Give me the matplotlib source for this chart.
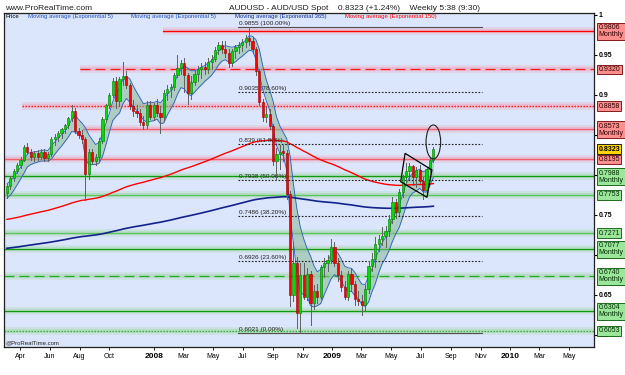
import datetime as dt
import matplotlib
matplotlib.use("Agg")
import matplotlib.pyplot as plt
import matplotlib.dates as mdates
from matplotlib.patches import Ellipse, Polygon
from matplotlib.ticker import MultipleLocator, FuncFormatter

plt.rcParams['font.family'] = ['Liberation Sans', 'DejaVu Sans']

# ----------------------------
# Data (weekly AUD/USD candles)
# ----------------------------
first_monday = dt.date(2007, 3, 5)

opens = [
    0.778, 0.786, 0.796, 0.805, 0.812, 0.819, 0.835, 0.829, 0.822, 0.827,
    0.823, 0.829, 0.821, 0.826, 0.845, 0.848, 0.852, 0.857, 0.862, 0.871,
    0.880, 0.855, 0.850, 0.845, 0.801, 0.829, 0.818, 0.822, 0.843, 0.870,
    0.887, 0.900, 0.918, 0.892, 0.920, 0.924, 0.912, 0.886, 0.880, 0.877,
    0.866, 0.862, 0.888, 0.873, 0.887, 0.878, 0.872, 0.902, 0.907, 0.910,
    0.925, 0.934, 0.940, 0.925, 0.903, 0.916, 0.926, 0.932, 0.935, 0.932,
    0.941, 0.945, 0.956, 0.962, 0.958, 0.953, 0.940, 0.955, 0.960, 0.963,
    0.966, 0.971, 0.968, 0.957, 0.930, 0.891, 0.872, 0.876, 0.861, 0.818,
    0.826, 0.829, 0.828, 0.776, 0.650, 0.690, 0.628, 0.675, 0.648, 0.676,
    0.640, 0.655, 0.648, 0.685, 0.690, 0.694, 0.710, 0.690, 0.675, 0.660,
    0.648, 0.676, 0.664, 0.645, 0.643, 0.638, 0.658, 0.686, 0.695, 0.714,
    0.720, 0.724, 0.730, 0.745, 0.766, 0.754, 0.779, 0.797, 0.805, 0.811,
    0.797, 0.806, 0.793, 0.781, 0.807, 0.819,
]
highs = [
    0.789, 0.799, 0.808, 0.815, 0.822, 0.838, 0.840, 0.833, 0.830, 0.831,
    0.832, 0.833, 0.829, 0.848, 0.851, 0.855, 0.859, 0.864, 0.873, 0.888,
    0.884, 0.859, 0.856, 0.848, 0.832, 0.832, 0.826, 0.846, 0.873, 0.889,
    0.902, 0.921, 0.922, 0.923, 0.941, 0.930, 0.915, 0.894, 0.888, 0.882,
    0.874, 0.892, 0.893, 0.890, 0.895, 0.886, 0.906, 0.912, 0.914, 0.928,
    0.950, 0.944, 0.946, 0.928, 0.924, 0.930, 0.936, 0.940, 0.941, 0.946,
    0.950, 0.960, 0.966, 0.967, 0.968, 0.958, 0.958, 0.963, 0.966, 0.970,
    0.975, 0.9855, 0.972, 0.960, 0.933, 0.895, 0.885, 0.882, 0.864, 0.834,
    0.838, 0.837, 0.831, 0.780, 0.716, 0.697, 0.690, 0.690, 0.684, 0.680,
    0.662, 0.664, 0.688, 0.696, 0.700, 0.720, 0.716, 0.696, 0.680, 0.668,
    0.680, 0.682, 0.668, 0.655, 0.650, 0.662, 0.692, 0.702, 0.722, 0.725,
    0.735, 0.736, 0.750, 0.772, 0.770, 0.782, 0.800, 0.815, 0.815, 0.813,
    0.810, 0.812, 0.797, 0.810, 0.822, 0.835,
]
lows = [
    0.771, 0.782, 0.793, 0.802, 0.809, 0.817, 0.826, 0.819, 0.818, 0.819,
    0.820, 0.818, 0.817, 0.824, 0.838, 0.842, 0.846, 0.853, 0.859, 0.868,
    0.852, 0.846, 0.840, 0.769, 0.795, 0.814, 0.813, 0.818, 0.840, 0.866,
    0.884, 0.898, 0.884, 0.886, 0.912, 0.909, 0.882, 0.874, 0.872, 0.862,
    0.858, 0.859, 0.870, 0.869, 0.874, 0.852, 0.868, 0.894, 0.898, 0.906,
    0.922, 0.926, 0.904, 0.889, 0.895, 0.912, 0.918, 0.921, 0.926, 0.928,
    0.933, 0.942, 0.951, 0.952, 0.948, 0.935, 0.936, 0.946, 0.953, 0.955,
    0.960, 0.963, 0.953, 0.925, 0.888, 0.868, 0.866, 0.858, 0.812, 0.794,
    0.808, 0.818, 0.770, 0.636, 0.642, 0.609, 0.6021, 0.645, 0.644, 0.613,
    0.632, 0.640, 0.645, 0.672, 0.680, 0.690, 0.686, 0.668, 0.655, 0.645,
    0.644, 0.655, 0.638, 0.637, 0.625, 0.630, 0.652, 0.680, 0.685, 0.705,
    0.712, 0.710, 0.724, 0.740, 0.746, 0.750, 0.772, 0.790, 0.795, 0.788,
    0.785, 0.790, 0.770, 0.778, 0.804, 0.816,
]
closes = [
    0.786, 0.796, 0.805, 0.812, 0.819, 0.835, 0.829, 0.822, 0.827, 0.823,
    0.829, 0.821, 0.826, 0.845, 0.848, 0.852, 0.857, 0.862, 0.871, 0.880,
    0.855, 0.850, 0.845, 0.801, 0.829, 0.818, 0.822, 0.843, 0.870, 0.887,
    0.900, 0.918, 0.892, 0.920, 0.924, 0.912, 0.886, 0.880, 0.877, 0.866,
    0.862, 0.888, 0.873, 0.887, 0.878, 0.872, 0.902, 0.907, 0.910, 0.925,
    0.934, 0.940, 0.925, 0.903, 0.916, 0.926, 0.932, 0.935, 0.932, 0.941,
    0.945, 0.956, 0.962, 0.958, 0.953, 0.940, 0.955, 0.960, 0.963, 0.966,
    0.971, 0.968, 0.957, 0.930, 0.891, 0.872, 0.876, 0.861, 0.818, 0.826,
    0.829, 0.828, 0.776, 0.650, 0.690, 0.628, 0.675, 0.648, 0.676, 0.640,
    0.655, 0.648, 0.685, 0.690, 0.694, 0.710, 0.690, 0.675, 0.660, 0.648,
    0.676, 0.664, 0.645, 0.643, 0.638, 0.658, 0.686, 0.695, 0.714, 0.720,
    0.724, 0.730, 0.745, 0.766, 0.754, 0.779, 0.797, 0.805, 0.811, 0.797,
    0.806, 0.793, 0.781, 0.807, 0.819, 0.8323,
]

# long EMA starting levels, read at the left edge of the chart
ema150_start = 0.744
ema365_start = 0.708

# support / resistance levels and their right-hand tags
level_values = [0.9806, 0.9320, 0.8858, 0.8573, 0.8195,
                0.7988, 0.7753, 0.7271, 0.7077, 0.6740, 0.6304, 0.6053]
level_labels = ["0.9806\nMonthly", "0.9320", "0.8858", "0.8573\nMonthly", "0.8195",
                "0.7988\nMonthly", "0.7753", "0.7271", "0.7077\nMonthly",
                "0.6740\nMonthly", "0.6304\nMonthly", "0.6053"]
level_from = [dt.date(2008, 1, 20), dt.date(2007, 8, 1), dt.date(2007, 4, 4),
              dt.date(2007, 8, 8), None, None, None, None, None, None, None, None]

last_price = 0.8323

# fibonacci retracement
fib_high = 0.9855
fib_low = 0.6021
fib_ratios = [1.0, 0.786, 0.618, 0.5, 0.382, 0.236, 0.0]
fib_from = dt.date(2008, 6, 22)
fib_to = dt.date(2009, 11, 3)

# hand-drawn pennant and circle
pennant_dates = [dt.date(2009, 5, 30), dt.date(2009, 7, 24),
                 dt.date(2009, 7, 14), dt.date(2009, 5, 21)]
pennant_values = [0.8271, 0.8063, 0.7721, 0.7916]
circle_date = dt.date(2009, 7, 27)
circle_value = 0.8413

tick_months = [(2007, 4), (2007, 6), (2007, 8), (2007, 10),
               (2008, 1), (2008, 3), (2008, 5), (2008, 7), (2008, 9), (2008, 11),
               (2009, 1), (2009, 3), (2009, 5), (2009, 7), (2009, 9), (2009, 11),
               (2010, 1), (2010, 3), (2010, 5)]

# price ticks whose labels sit under the level tags
covered_ticks = [0.85, 0.8, 0.7]

legend_items = ["Price", "Moving average (Exponential 5)", "Moving average (Exponential 5)",
                "Moving average (Exponential 365)", "Moving average (Exponential 150)"]


# ----------------------------
# Derived series
# ----------------------------
def ema(values, span, start):
    a = 2.0 / (span + 1)
    out, e = [], start
    for v in values:
        e = e + a * (v - e)
        out.append(e)
    return out


week_x = [mdates.date2num(first_monday + dt.timedelta(weeks=i)) for i in range(len(closes))]
ema_hi = ema(highs, 5, highs[0])
ema_lo = ema(lows, 5, lows[0])
ema150 = ema(closes, 150, ema150_start)
ema365 = ema(closes, 365, ema365_start)

# ----------------------------
# Figure
# ----------------------------
fig = plt.figure(figsize=(6.25, 3.75), dpi=100)
ax = fig.add_axes([4 / 625, 28 / 375, 590 / 625, 334 / 375])
ax.set_facecolor("#dbe5fb")

x_left = mdates.date2num(dt.datetime(2007, 2, 27))
x_right = x_left + 590 / 178 * 365.25
ax.set_xlim(x_left, x_right)
ax.set_ylim(0.585, 1.0025)

# level lines with soft glow
red_style = [("#ff0000", "-"), ("#ff1a1a", (0, (8, 4))), ("#ff2020", (0, (1.2, 1.2))),
             ("#f2606e", "-"), ("#f2606e", "-")]
green_style = [("#119911", "-"), ("#5cc45c", "-"), ("#5cc45c", "-"), ("#119911", "-"),
               ("#22aa22", (0, (8, 4))), ("#119911", "-"), ("#33aa33", (0, (1.2, 1.2)))]
styles = red_style + green_style
for k, (v, start) in enumerate(zip(level_values, level_from)):
    xs = x_left if start is None else mdates.date2num(start)
    red = k < 5
    glow = "#f29aae" if red else "#98d698"
    ax.plot([xs, x_right], [v, v], color=glow, lw=5.5, alpha=0.25, solid_capstyle="butt", zorder=1)
    ax.plot([xs, x_right], [v, v], color=glow, lw=2.8, alpha=0.4, solid_capstyle="butt", zorder=1.1)
    col, ls = styles[k]
    ax.plot([xs, x_right], [v, v], color=col, lw=0.9, ls=ls, zorder=1.2)

# EMA 5 band of highs/lows
ax.fill_between(week_x, ema_lo, ema_hi, color="#88b898", alpha=0.55, lw=0, zorder=2)
ax.plot(week_x, ema_hi, color="#2a5cc0", lw=0.6, zorder=2.2)
ax.plot(week_x, ema_lo, color="#2a5cc0", lw=0.6, zorder=2.2)

# long EMAs
ax.plot(week_x, ema365, color="#13238a", lw=1.2, zorder=2.4)
ax.plot(week_x, ema150, color="#ff0000", lw=1.0, zorder=2.4)

# fibonacci lines
fx0, fx1 = mdates.date2num(fib_from), mdates.date2num(fib_to)
for r in fib_ratios:
    v = fib_low + (fib_high - fib_low) * r
    if r in (0.0, 1.0):
        ax.plot([fx0, fx1], [v, v], color="#505050", lw=0.8, zorder=2.6)
    else:
        ax.plot([fx0, fx1], [v, v], color="#202020", lw=0.8, ls=(0, (1.5, 1.5)), zorder=2.6)
    ax.annotate(f"{v:.4g} ({r * 100:.2f}%)", xy=(fx0, v), xytext=(0.5, 0.6),
                textcoords="offset points", fontsize=4.6, color="#202020",
                ha="left", va="bottom", zorder=2.7)

# candles
for x, o, h, l, c in zip(week_x, opens, highs, lows, closes):
    up = c >= o
    ax.plot([x, x], [l, h], color="#606060", lw=0.7, zorder=2.9)
    ax.bar(x, max(abs(c - o), 0.0015), width=4.5, bottom=min(o, c),
           color="#00dd00" if up else "#ff0000",
           edgecolor="#007a00" if up else "#9a0000", lw=0.4, zorder=3)

# pennant and circle
pen = Polygon([(mdates.date2num(d), v) for d, v in zip(pennant_dates, pennant_values)],
              closed=True, fill=False, ec="black", lw=0.9, zorder=4)
ax.add_patch(pen)
ax.add_patch(Ellipse((mdates.date2num(circle_date), circle_value), 30, 0.0425,
                     fill=False, ec="#202020", lw=0.8, zorder=4))

# right-hand level tags
ax.annotate(f"{ema150[-1]:.4f}", xy=(1, ema150[-1]), xycoords=("axes fraction", "data"),
            xytext=(4, 0), textcoords="offset points", fontsize=5, color="red",
            fontweight="bold", va="center", ha="left", annotation_clip=False, zorder=5)
for k, (v, lab) in enumerate(zip(level_values, level_labels)):
    red = k < 5
    two = "\n" in lab
    ax.annotate(lab, xy=(1, v), xycoords=("axes fraction", "data"),
                xytext=(3.2, 4.6 if two else 0), textcoords="offset points",
                fontsize=5, color="#2a0000" if red else "#002a00",
                ha="left", va="top" if two else "center", linespacing=1.0,
                bbox=dict(boxstyle="square,pad=0.2", fc="#ff8e8e" if red else "#9be69b",
                          ec="#700000" if red else "#005500", lw=0.6),
                annotation_clip=False, zorder=6)
ax.annotate(f"{last_price:.4f}", xy=(1, last_price), xycoords=("axes fraction", "data"),
            xytext=(3.2, 0), textcoords="offset points", fontsize=5, fontweight="bold",
            color="black", ha="left", va="center",
            bbox=dict(boxstyle="square,pad=0.2", fc="#ffd400", ec="black", lw=0.6),
            annotation_clip=False, zorder=7)


def price_label(v, _):
    if any(abs(v - t) < 1e-6 for t in covered_ticks):
        return ""
    return f"{v:g}"


# axes styling
for s in ax.spines.values():
    s.set_color("#202020")
    s.set_linewidth(0.9)
ax.yaxis.tick_right()
ax.yaxis.set_major_locator(MultipleLocator(0.05))
ax.yaxis.set_major_formatter(FuncFormatter(price_label))
ax.tick_params(axis="y", direction="out", length=2.5, width=0.8, pad=1, labelsize=5)
for t in ax.get_yticklabels():
    t.set_fontweight("bold")

tick_pos = [mdates.date2num(dt.date(y, m, 1)) for y, m in tick_months]
tick_lab = [str(y) if m == 1 else dt.date(y, m, 1).strftime("%b") for y, m in tick_months]
ax.set_xticks(tick_pos)
ax.set_xticklabels(tick_lab)
ax.tick_params(axis="x", direction="out", length=2.5, width=0.6, pad=2, labelsize=5)
for t, (y, m) in zip(ax.get_xticklabels(), tick_months):
    if m == 1:
        t.set_fontweight("bold")
        t.set_fontsize(6)

# legend strip and captions
lx = [0.002, 0.040, 0.216, 0.391, 0.578]
lcol = ["black", "#2050c0", "#2050c0", "#1030a0", "#ff0000"]
for x, txt, col in zip(lx, legend_items, lcol):
    ax.text(x, 0.997, txt, transform=ax.transAxes, fontsize=4.3, color=col,
            ha="left", va="top", zorder=8)
ax.text(0.002, 0.004, "@ProRealTime.com", transform=ax.transAxes, fontsize=4.3,
        color="#202020", ha="left", va="bottom", zorder=8)
fig.text(0.008, 0.978, "www.ProRealTime.com", fontsize=6, color="#202020", va="center")
fig.text(0.568, 0.978, "AUDUSD - AUD/USD Spot    0.8323 (+1.24%)    Weekly 5:38 (9:30)",
         fontsize=6, color="#202020", ha="center", va="center")

plt.savefig("out.png", dpi=100)
